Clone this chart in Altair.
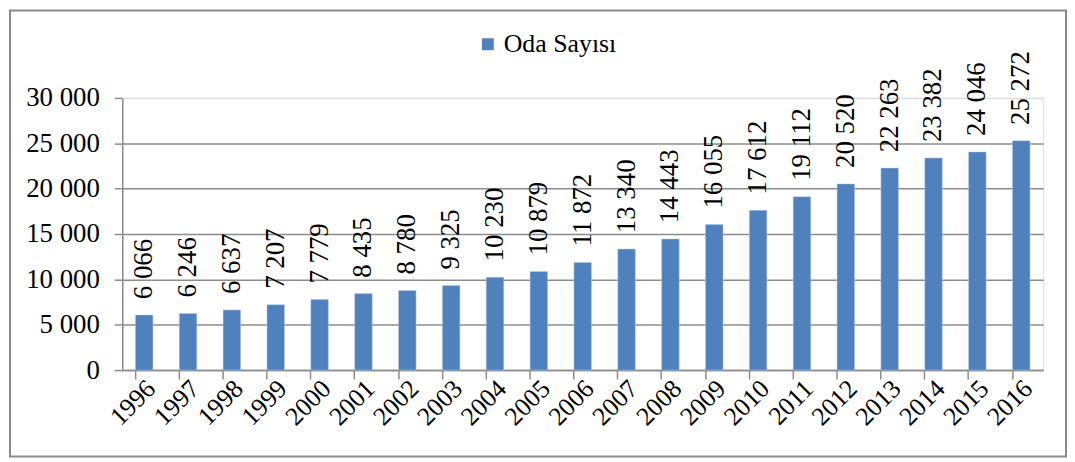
import altair as alt
import pandas as pd

years = [str(y) for y in range(1996, 2017)]
rooms = [6066, 6246, 6637, 7207, 7779, 8435, 8780, 9325, 10230, 10879, 11872,
         13340, 14443, 16055, 17612, 19112, 20520, 22263, 23382, 24046, 25272]
series_name = "Oda Sayısı"

df = pd.DataFrame({"Yıl": years, "Oda": rooms, "Seri": series_name})

FONT = "Liberation Serif, Times New Roman, serif"
BLUE = "#4F81BD"
GRID = "#8c8c8c"

W, H = 927, 274

base = alt.Chart(df)

bars = base.mark_bar(color=BLUE, stroke="#b9cde5", strokeWidth=0.5).encode(
    x=alt.X("Yıl:N", title=None, sort=years,
            scale=alt.Scale(paddingInner=0.6, paddingOuter=0.3),
            axis=alt.Axis(labelAngle=-45, labelFont=FONT, labelFontSize=26,
                          labelColor="black", bandPosition=0, tickSize=9,
                          tickColor=GRID, domainColor=GRID, tickWidth=1.5,
                          domainWidth=1.5, labelPadding=-4, grid=False,
                          labelAlign="right", labelBaseline="top",
                          labelOffset=-2)),
    y=alt.Y("Oda:Q", title=None,
            scale=alt.Scale(domain=[0, 30000], nice=False),
            axis=alt.Axis(values=[0, 5000, 10000, 15000, 20000, 25000, 30000],
                          labelExpr="replace(format(datum.value, ','), ',', ' ')",
                          labelFont=FONT, labelFontSize=27, labelColor="black",
                          tickSize=8, tickColor=GRID, domainColor=GRID,
                          tickWidth=1.5, domainWidth=1.5, labelPadding=15,
                          gridColor={"condition": {"test": "datum.value === 30000",
                                                   "value": "#dddddd"},
                                     "value": GRID},
                          gridWidth=1.5)),
    color=alt.Color("Seri:N", scale=alt.Scale(range=[BLUE]), title=None,
                    legend=alt.Legend(orient="none", legendX=355, legendY=-67,
                                      symbolType="square", symbolSize=144,
                                      symbolStrokeWidth=0, labelFont=FONT,
                                      labelFontSize=26, labelColor="black",
                                      padding=0, labelOffset=3)),
)

labels = base.transform_calculate(
    lab="replace(format(datum.Oda, ','), ',', ' ')"
).mark_text(angle=270, align="left", baseline="middle", dx=16,
            font=FONT, fontSize=27, color="black").encode(
    x=alt.X("Yıl:N", sort=years),
    y=alt.Y("Oda:Q"),
    text="lab:N",
)

border = alt.Chart(pd.DataFrame({"b": [1]})).mark_rect(
    fill=None, stroke="#8a8a8a", strokeWidth=2
).encode(
    x=alt.value(-113), x2=alt.value(950), y=alt.value(-88), y2=alt.value(361)
)

chart = alt.layer(bars, labels, border).properties(
    width=W, height=H,
    autosize=alt.AutoSizeParams(type="none"),
    padding={"left": 115, "top": 89, "right": 24, "bottom": 89},
).configure_view(stroke=None).configure(background="white")

chart.save("out.html", embed_options={"renderer": "svg", "actions": False})
